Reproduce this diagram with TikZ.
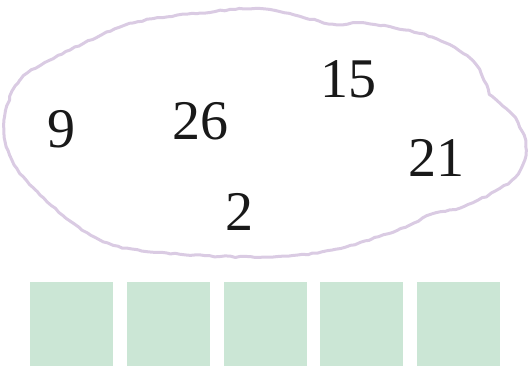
\documentclass[tikz,border=0pt]{standalone}
\usepackage{fontspec}
\setmainfont{Liberation Serif}
\usepackage{tikz}
\usetikzlibrary{positioning, calc, decorations.pathmorphing}
\usepackage{xcolor}
\definecolor{lilac}{HTML}{DACBE3}
\definecolor{mint}{HTML}{CBE6D5}

\tikzset{
    numlabel/.style={inner sep=0pt, font=\fontsize{56}{60}\selectfont, text=black!90},
    slotbox/.style={fill=mint, draw=none, minimum width=83pt, minimum height=84pt, inner sep=0pt, anchor=north west}
}

\begin{document}
\begin{tikzpicture}[x=1pt, y=-1pt]
    \useasboundingbox (0,0) rectangle (530,367);
    % set outline
    \draw[lilac, line width=3pt, line join=round,
          decorate, decoration={random steps, segment length=5pt, amplitude=0.7pt}]
        plot[smooth cycle, tension=0.6] coordinates {
            (4,125) (20,80) (70,50) (133,23) (200,13) (265,9) (332,24)
            (365,23) (432,37) (470,58) (484,80) (492,96) (515,118) (526,150)
            (512,180) (465,206) (432,214) (398,230) (332,250) (265,257)
            (167,253) (100,240) (40,195) (12,160)};
    % numbers
    \node[numlabel] (n9)  at (61,129) {9};
    \node[numlabel] (n26) at (200,121) {26};
    \node[numlabel] (n15) at (348,79) {15};
    \node[numlabel] (n21) at (436,158) {21};
    \node[numlabel] (n2)  at (239,212) {2};
    % empty boxes
    \foreach \i in {0,...,4}
        \node[slotbox] (box\i) at ({30+96.75*\i},282) {};
\end{tikzpicture}
\end{document}
